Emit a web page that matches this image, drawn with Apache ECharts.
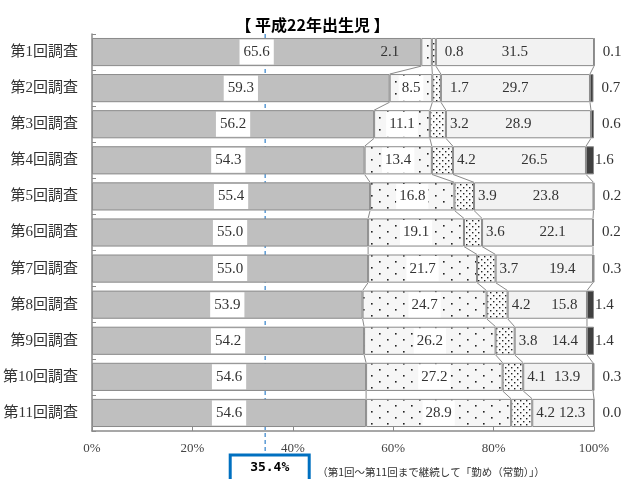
<!DOCTYPE html>
<html><head><meta charset="utf-8">
<script src="https://cdn.jsdelivr.net/npm/echarts@6/dist/echarts.min.js"></script>
<style>html,body{margin:0;padding:0;background:#fff}#c{width:625px;height:479px}</style>
</head><body><div id="c"></div>
<script>
// ---- data ----
const titleText = '【 平成22年出生児 】';
const categories = ['第1回調査','第2回調査','第3回調査','第4回調査','第5回調査','第6回調査','第7回調査','第8回調査','第9回調査','第10回調査','第11回調査'];
const seriesNames = ['区分1','区分2','区分3','区分4','区分5'];
const seg1 = [65.6,59.3,56.2,54.3,55.4,55.0,55.0,53.9,54.2,54.6,54.6];
const seg2 = [2.1,8.5,11.1,13.4,16.8,19.1,21.7,24.7,26.2,27.2,28.9];
const seg3 = [0.8,1.7,3.2,4.2,3.9,3.6,3.7,4.2,3.8,4.1,4.2];
const seg4 = [31.5,29.7,28.9,26.5,23.8,22.1,19.4,15.8,14.4,13.9,12.3];
const seg5 = [0.1,0.7,0.6,1.6,0.2,0.2,0.3,1.4,1.4,0.3,0.0];
const xTicks = [0,20,40,60,80,100];
const markValue = 35.4;      // 第1回～第11回まで継続して「勤め（常勤）」
const markLineAt = 34.5;     // where the dashed guide is drawn
const markText = '35.4%';
const noteText = '（第1回～第11回まで継続して「勤め（常勤）」）';

// ---- styling helpers ----
const seg4LabelNudge = [0,0,0,15,12,15,18,17,14,9,9];
const serif = "'Liberation Serif','Noto Sans CJK JP',serif";
const segs = [seg1,seg2,seg3,seg4,seg5];
const barRatio = 0.78;

function makePattern(w,h,bg,dots,r,col){
  const c=document.createElement('canvas'); c.width=w; c.height=h;
  const g=c.getContext('2d'); g.fillStyle=bg; g.fillRect(0,0,w,h);
  g.fillStyle=col;
  dots.forEach(d=>{g.fillRect(d[0],d[1],r,r);});
  return {image:c,repeat:'repeat'};
}
const pat2 = makePattern(16,12,'#f6f6f6',[[3,3],[11,9]],1.6,'#222');
const pat3 = makePattern(6,6,'#fbfbfb',[[1,1],[4,4]],1.4,'#222');

const chart = echarts.init(document.getElementById('c'));
const baseLabel = {show:true,fontFamily:serif,fontSize:15,color:'#333',formatter:p=>Number(p.value).toFixed(1)};
const border = {borderColor:'#8a8a8a',borderWidth:1};

function barSeries(idx,color,labelFn){
  return {
    type:'bar', name:seriesNames[idx], stack:'all', barWidth:(barRatio*100)+'%', clip:false,
    itemStyle:Object.assign({color:color},border),
    label:Object.assign({},baseLabel),
    data:segs[idx].map((v,i)=>({value:v,label:labelFn(v,i)})),
    animation:false
  };
}

const series = [
  barSeries(0,'#bfbfbf',()=>({position:'inside',backgroundColor:'#fff',padding:[5,4]})),
  barSeries(1,pat2,(v)=> v<3 ? {position:'left',distance:22} : {position:'inside',backgroundColor:'#fff',padding:[5,3]}),
  barSeries(2,pat3,(v)=>({position:'right',distance: v<2?9:4})),
  barSeries(3,'#f2f2f2',(v,i)=>({position:'inside',offset:[seg4LabelNudge[i],0]})),
  barSeries(4,'#404040',(v)=>({position:'right',distance: v>=1?1:8})),
  {
    type:'custom', z:3, clip:false, silent:true, animation:false,
    data:categories.slice(0,-1).map((c,i)=>[0,i]),
    renderItem:(params,api)=>{
      const i=params.dataIndex;
      const half=api.size([0,1])[1]*barRatio/2;
      let a=0,b=0; const ch=[];
      for(let k=0;k<4;k++){
        a+=segs[k][i]; b+=segs[k][i+1];
        const p1=api.coord([a,i]), p2=api.coord([b,i+1]);
        ch.push({type:'line',shape:{x1:p1[0],y1:p1[1]+half,x2:p2[0],y2:p2[1]-half},style:{stroke:'#8a8a8a',lineWidth:1}});
      }
      return {type:'group',children:ch};
    }
  },
  {
    type:'custom', z:1, clip:false, silent:true, animation:false,
    data:[[markValue,0]],
    renderItem:(params,api)=>{
      const band=api.size([0,1])[1];
      const xl=api.coord([markLineAt,0])[0];
      const top=api.coord([0,0])[1]-band/2;
      const bottom=api.coord([0,categories.length-1])[1]+band/2;
      const boxTop=bottom+24;
      const cx=api.coord([api.value(0),0])[0];
      const bw=79, bh=32;
      return {type:'group',children:[
        {type:'line',shape:{x1:xl,y1:top,x2:xl,y2:boxTop},style:{stroke:'#5b9bd5',lineWidth:1.5,lineDash:[4,3]}},
        {type:'rect',shape:{x:cx-bw/2,y:boxTop,width:bw,height:bh},style:{fill:'#fff',stroke:'#0070c0',lineWidth:3}},
        {type:'text',style:{x:cx,y:boxTop+13,text:markText,align:'center',verticalAlign:'middle',font:"bold 13px 'DejaVu Sans Mono','Noto Sans CJK JP',monospace",fill:'#000'}},
        {type:'text',style:{x:cx+bw/2+8,y:boxTop+17,text:noteText,align:'left',verticalAlign:'middle',font:"10.5px 'Noto Sans CJK JP',sans-serif",fill:'#333'}}
      ]};
    }
  }
];

chart.setOption({
  animation:false,
  backgroundColor:'#fff',
  title:{text:titleText,left:'center',top:12,textStyle:{fontSize:16,fontWeight:'bold',color:'#000',fontFamily:"'Noto Sans CJK JP',sans-serif"}},
  grid:{left:89,right:31,top:34,bottom:48,containLabel:false},
  xAxis:{type:'value',min:xTicks[0],max:xTicks[xTicks.length-1],interval:xTicks[1]-xTicks[0],
    axisLine:{show:true,lineStyle:{color:'#8a8a8a',width:1.5}},
    axisTick:{show:true,inside:true,length:4,lineStyle:{color:'#8a8a8a'}},
    splitLine:{show:false},
    axisLabel:{formatter:'{value}%',fontFamily:serif,fontSize:13,color:'#444',margin:11}},
  yAxis:{type:'category',data:categories,inverse:true,
    axisLine:{show:true,lineStyle:{color:'#8a8a8a',width:1.5}},
    axisTick:{show:true,inside:true,length:4,lineStyle:{color:'#8a8a8a'}},
    axisLabel:{fontFamily:serif,fontSize:15,color:'#333',margin:14}},
  series:series
});
</script></body></html>
